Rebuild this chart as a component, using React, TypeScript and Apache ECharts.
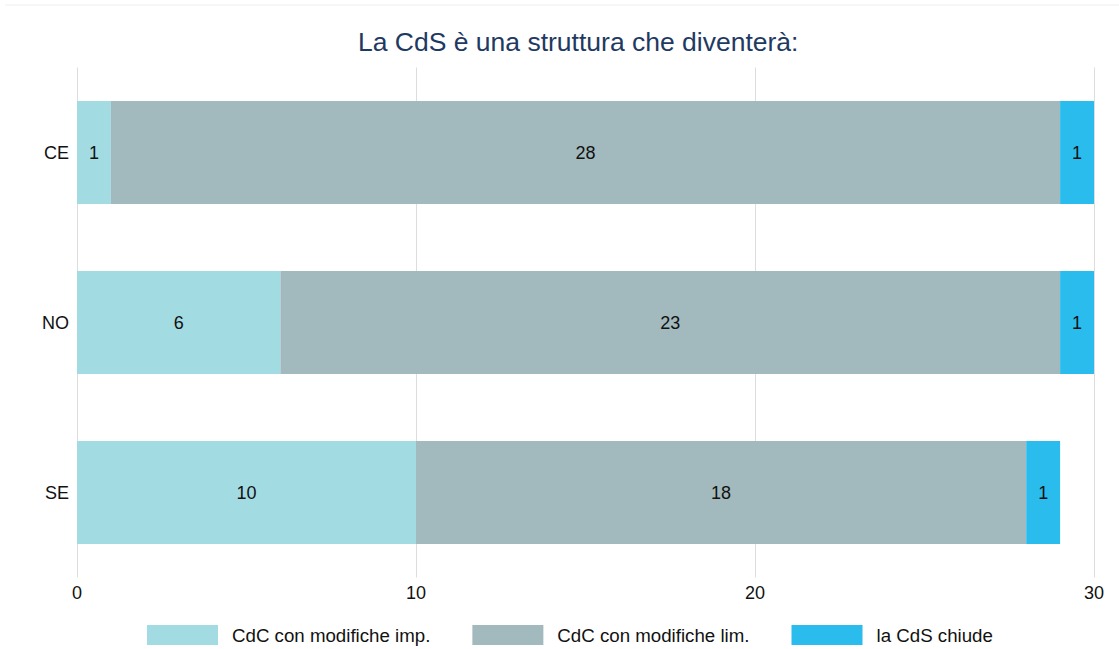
import React, { useEffect, useRef } from "react";
import * as echarts from "echarts";

const categories = ["CE", "NO", "SE"];
const seriesNames = ["CdC con modifiche imp.", "CdC con modifiche lim.", "la CdS chiude"];
const impValues = [1, 6, 10];
const limValues = [28, 23, 18];
const chiudeValues = [1, 1, 1];
const colors = ["#a3dbe3", "#a2babe", "#2bbcee"];
const xTicks = [0, 10, 20, 30];

export default function App() {
  const ref = useRef<HTMLDivElement>(null);
  useEffect(() => {
    if (!ref.current) return;
    const chart = echarts.init(ref.current, undefined, { renderer: "svg" });
    const font = "Liberation Sans, Arial, sans-serif";
    const mk = (name: string, data: number[], color: string) => ({
      name,
      type: "bar",
      stack: "total",
      data,
      barWidth: 103,
      itemStyle: { color },
      label: {
        show: true,
        position: "inside",
        color: "#111",
        fontSize: 18,
        fontFamily: font,
      },
    });
    chart.setOption({
      animation: false,
      backgroundColor: "#ffffff",
      title: {
        text: "La CdS è una struttura che diventerà:",
        left: 358,
        top: 28,
        padding: 0,
        textStyle: { color: "#1f3a62", fontSize: 26.5, fontWeight: "normal", fontFamily: font },
      },
      graphic: [
        {
          type: "line",
          shape: { x1: 5, y1: 5, x2: 1119, y2: 5 },
          style: { stroke: "#edf1f1", lineWidth: 1 },
        },
      ],
      legend: {
        left: 147,
        top: 625,
        padding: 0,
        itemWidth: 71,
        itemHeight: 20,
        itemGap: 42,
        icon: "rect",
        data: seriesNames,
        textStyle: { fontSize: 18.7, color: "#111", fontFamily: font, padding: [0, 0, 0, 9] },
      },
      grid: { left: 77, right: 25, top: 67.5, bottom: 71.5, containLabel: false },
      xAxis: {
        type: "value",
        min: xTicks[0],
        max: xTicks[xTicks.length - 1],
        interval: 10,
        axisLine: { show: false },
        axisTick: { show: false },
        splitLine: { show: true, lineStyle: { color: "#dddddd", width: 1 } },
        axisLabel: { fontSize: 18, color: "#111", fontFamily: font, margin: 6 },
      },
      yAxis: {
        type: "category",
        data: categories,
        inverse: true,
        axisLine: { show: false },
        axisTick: { show: false },
        axisLabel: { fontSize: 18, color: "#111", fontFamily: font, margin: 8 },
      },
      series: [
        mk(seriesNames[0], impValues, colors[0]),
        mk(seriesNames[1], limValues, colors[1]),
        mk(seriesNames[2], chiudeValues, colors[2]),
      ],
    });
    return () => chart.dispose();
  }, []);
  return (
    <div
      ref={ref}
      style={{ position: "fixed", left: 0, top: 0, width: 1119, height: 649 }}
    />
  );
}
